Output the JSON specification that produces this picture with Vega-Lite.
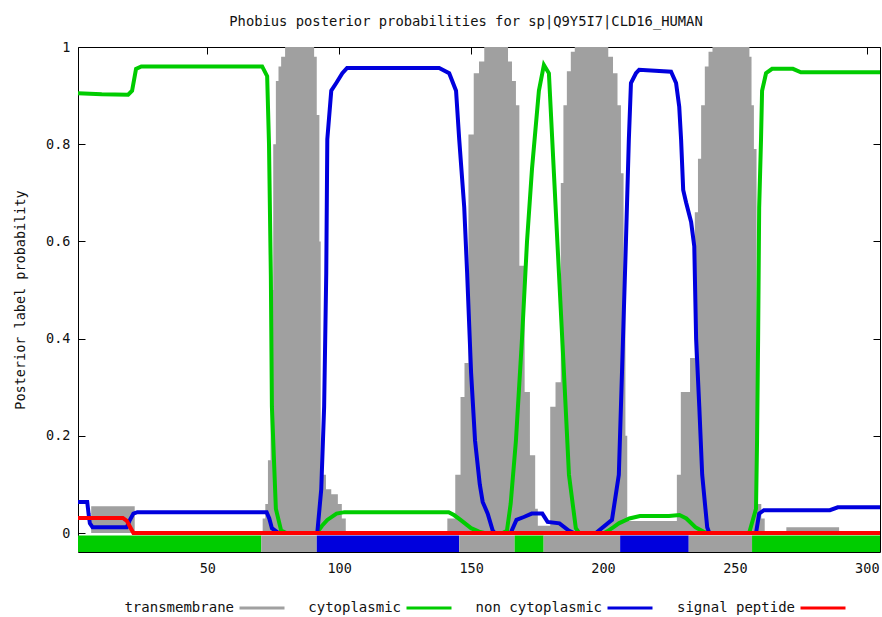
{
  "$schema": "https://vega.github.io/schema/vega-lite/v6.json",
  "width": 802,
  "height": 505,
  "autosize": {"type": "none"},
  "padding": {"left": 78, "top": 47, "right": 2, "bottom": 65},
  "background": "white",
  "title": {
    "text": "Phobius posterior probabilities for sp|Q9Y5I7|CLD16_HUMAN",
    "anchor": "middle",
    "font": "DejaVu Sans Mono",
    "fontSize": 13.8,
    "fontWeight": "normal",
    "color": "#111111",
    "offset": 11,
    "dx": -13
  },
  "datasets": {
    "tm": [
      {"r": 1, "p": 0}, {"r": 6, "p": 0.055}, {"r": 22.5, "p": 0},
      {"r": 71, "p": 0.03}, {"r": 72, "p": 0.06}, {"r": 73, "p": 0.15}, {"r": 74, "p": 0.5}, {"r": 75, "p": 0.8}, {"r": 76, "p": 0.93}, {"r": 77, "p": 0.96}, {"r": 78, "p": 0.98}, {"r": 79.5, "p": 1.0}, {"r": 90.5, "p": 0.98}, {"r": 91.5, "p": 0.86}, {"r": 92.5, "p": 0.6}, {"r": 93, "p": 0.12}, {"r": 95, "p": 0.09}, {"r": 97, "p": 0.08}, {"r": 99.5, "p": 0.06}, {"r": 101, "p": 0.03}, {"r": 102.5, "p": 0},
      {"r": 141, "p": 0.03}, {"r": 144, "p": 0.12}, {"r": 146, "p": 0.28}, {"r": 147.5, "p": 0.35}, {"r": 149, "p": 0.82}, {"r": 151, "p": 0.946}, {"r": 153, "p": 0.97}, {"r": 155, "p": 1.0}, {"r": 164, "p": 0.97}, {"r": 165.5, "p": 0.93}, {"r": 167, "p": 0.88}, {"r": 168.3, "p": 0.55}, {"r": 170.3, "p": 0.29}, {"r": 172.3, "p": 0.16}, {"r": 174.3, "p": 0.05}, {"r": 175.3, "p": 0.015},
      {"r": 180, "p": 0.26}, {"r": 182, "p": 0.31}, {"r": 184, "p": 0.72}, {"r": 185, "p": 0.88}, {"r": 186.3, "p": 0.95}, {"r": 187.8, "p": 0.99}, {"r": 189.3, "p": 1.0}, {"r": 202, "p": 0.98}, {"r": 203.8, "p": 0.946}, {"r": 205.5, "p": 0.88}, {"r": 206.8, "p": 0.74}, {"r": 207.8, "p": 0.47}, {"r": 208.5, "p": 0.2}, {"r": 209.2, "p": 0.025},
      {"r": 228, "p": 0.12}, {"r": 229.5, "p": 0.29}, {"r": 233, "p": 0.36}, {"r": 234.8, "p": 0.66}, {"r": 236, "p": 0.77}, {"r": 237.2, "p": 0.88}, {"r": 238.6, "p": 0.96}, {"r": 240, "p": 0.99}, {"r": 241.5, "p": 1.0}, {"r": 255.5, "p": 0.98}, {"r": 256.3, "p": 0.88}, {"r": 257.2, "p": 0.79}, {"r": 258.2, "p": 0.3}, {"r": 258.7, "p": 0.06}, {"r": 260, "p": 0.03}, {"r": 261.3, "p": 0},
      {"r": 269.5, "p": 0.012}, {"r": 289.5, "p": 0}, {"r": 305, "p": 0}
    ],
    "topology": [
      {"start": 1, "end": 70.5, "region": "cytoplasmic"},
      {"start": 70.5, "end": 91.5, "region": "transmembrane"},
      {"start": 91.5, "end": 145.5, "region": "non cytoplasmic"},
      {"start": 145.5, "end": 166.5, "region": "transmembrane"},
      {"start": 166.5, "end": 177.5, "region": "cytoplasmic"},
      {"start": 177.5, "end": 206.5, "region": "transmembrane"},
      {"start": 206.5, "end": 232.5, "region": "non cytoplasmic"},
      {"start": 232.5, "end": 256.5, "region": "transmembrane"},
      {"start": 256.5, "end": 305, "region": "cytoplasmic"}
    ],
    "probs": [
      {"series": "cytoplasmic", "r": 1, "p": 0.905}, {"series": "cytoplasmic", "r": 10, "p": 0.903}, {"series": "cytoplasmic", "r": 20, "p": 0.902}, {"series": "cytoplasmic", "r": 21.5, "p": 0.91}, {"series": "cytoplasmic", "r": 23, "p": 0.955}, {"series": "cytoplasmic", "r": 25, "p": 0.96}, {"series": "cytoplasmic", "r": 70.8, "p": 0.96}, {"series": "cytoplasmic", "r": 72.7, "p": 0.94}, {"series": "cytoplasmic", "r": 73.4, "p": 0.8}, {"series": "cytoplasmic", "r": 74.1, "p": 0.53}, {"series": "cytoplasmic", "r": 74.5, "p": 0.26}, {"series": "cytoplasmic", "r": 76, "p": 0.05}, {"series": "cytoplasmic", "r": 78, "p": 0.005}, {"series": "cytoplasmic", "r": 80, "p": 0}, {"series": "cytoplasmic", "r": 91.5, "p": 0}, {"series": "cytoplasmic", "r": 93.5, "p": 0.015}, {"series": "cytoplasmic", "r": 95.5, "p": 0.027}, {"series": "cytoplasmic", "r": 99, "p": 0.04}, {"series": "cytoplasmic", "r": 102, "p": 0.043}, {"series": "cytoplasmic", "r": 141.5, "p": 0.043}, {"series": "cytoplasmic", "r": 143.5, "p": 0.037}, {"series": "cytoplasmic", "r": 146, "p": 0.027}, {"series": "cytoplasmic", "r": 150, "p": 0.01}, {"series": "cytoplasmic", "r": 153, "p": 0.003}, {"series": "cytoplasmic", "r": 155, "p": 0}, {"series": "cytoplasmic", "r": 162, "p": 0}, {"series": "cytoplasmic", "r": 163.6, "p": 0.005}, {"series": "cytoplasmic", "r": 165, "p": 0.06}, {"series": "cytoplasmic", "r": 167, "p": 0.19}, {"series": "cytoplasmic", "r": 169.3, "p": 0.4}, {"series": "cytoplasmic", "r": 171.2, "p": 0.6}, {"series": "cytoplasmic", "r": 173.1, "p": 0.75}, {"series": "cytoplasmic", "r": 175.7, "p": 0.91}, {"series": "cytoplasmic", "r": 177.6, "p": 0.963}, {"series": "cytoplasmic", "r": 179.5, "p": 0.946}, {"series": "cytoplasmic", "r": 181.4, "p": 0.74}, {"series": "cytoplasmic", "r": 183.3, "p": 0.535}, {"series": "cytoplasmic", "r": 185.2, "p": 0.33}, {"series": "cytoplasmic", "r": 187.1, "p": 0.12}, {"series": "cytoplasmic", "r": 189.7, "p": 0.01}, {"series": "cytoplasmic", "r": 191, "p": 0}, {"series": "cytoplasmic", "r": 200.5, "p": 0}, {"series": "cytoplasmic", "r": 202, "p": 0.005}, {"series": "cytoplasmic", "r": 204, "p": 0.012}, {"series": "cytoplasmic", "r": 206, "p": 0.02}, {"series": "cytoplasmic", "r": 210, "p": 0.03}, {"series": "cytoplasmic", "r": 214, "p": 0.035}, {"series": "cytoplasmic", "r": 225, "p": 0.035}, {"series": "cytoplasmic", "r": 229, "p": 0.037}, {"series": "cytoplasmic", "r": 231.6, "p": 0.03}, {"series": "cytoplasmic", "r": 235, "p": 0.012}, {"series": "cytoplasmic", "r": 238, "p": 0.003}, {"series": "cytoplasmic", "r": 239.5, "p": 0}, {"series": "cytoplasmic", "r": 255.4, "p": 0}, {"series": "cytoplasmic", "r": 258, "p": 0.05}, {"series": "cytoplasmic", "r": 258.4, "p": 0.19}, {"series": "cytoplasmic", "r": 258.8, "p": 0.4}, {"series": "cytoplasmic", "r": 259.2, "p": 0.67}, {"series": "cytoplasmic", "r": 259.9, "p": 0.81}, {"series": "cytoplasmic", "r": 260.3, "p": 0.91}, {"series": "cytoplasmic", "r": 261.8, "p": 0.946}, {"series": "cytoplasmic", "r": 264.1, "p": 0.955}, {"series": "cytoplasmic", "r": 272, "p": 0.955}, {"series": "cytoplasmic", "r": 275, "p": 0.948}, {"series": "cytoplasmic", "r": 305, "p": 0.948},
      {"series": "non cytoplasmic", "r": 1, "p": 0.064}, {"series": "non cytoplasmic", "r": 4.5, "p": 0.064}, {"series": "non cytoplasmic", "r": 5, "p": 0.04}, {"series": "non cytoplasmic", "r": 5.5, "p": 0.02}, {"series": "non cytoplasmic", "r": 6.5, "p": 0.012}, {"series": "non cytoplasmic", "r": 19.5, "p": 0.012}, {"series": "non cytoplasmic", "r": 20.5, "p": 0.025}, {"series": "non cytoplasmic", "r": 22, "p": 0.04}, {"series": "non cytoplasmic", "r": 23.5, "p": 0.043}, {"series": "non cytoplasmic", "r": 72.5, "p": 0.043}, {"series": "non cytoplasmic", "r": 73.5, "p": 0.03}, {"series": "non cytoplasmic", "r": 74.5, "p": 0.01}, {"series": "non cytoplasmic", "r": 77, "p": 0}, {"series": "non cytoplasmic", "r": 91.7, "p": 0}, {"series": "non cytoplasmic", "r": 93.2, "p": 0.09}, {"series": "non cytoplasmic", "r": 94.3, "p": 0.26}, {"series": "non cytoplasmic", "r": 95.1, "p": 0.535}, {"series": "non cytoplasmic", "r": 95.5, "p": 0.81}, {"series": "non cytoplasmic", "r": 97, "p": 0.91}, {"series": "non cytoplasmic", "r": 98.9, "p": 0.926}, {"series": "non cytoplasmic", "r": 101.2, "p": 0.946}, {"series": "non cytoplasmic", "r": 103, "p": 0.957}, {"series": "non cytoplasmic", "r": 137.9, "p": 0.957}, {"series": "non cytoplasmic", "r": 141.7, "p": 0.946}, {"series": "non cytoplasmic", "r": 144.3, "p": 0.91}, {"series": "non cytoplasmic", "r": 145.5, "p": 0.81}, {"series": "non cytoplasmic", "r": 147.4, "p": 0.67}, {"series": "non cytoplasmic", "r": 148.5, "p": 0.535}, {"series": "non cytoplasmic", "r": 150, "p": 0.33}, {"series": "non cytoplasmic", "r": 151.5, "p": 0.19}, {"series": "non cytoplasmic", "r": 153.3, "p": 0.1}, {"series": "non cytoplasmic", "r": 154.4, "p": 0.064}, {"series": "non cytoplasmic", "r": 156.3, "p": 0.04}, {"series": "non cytoplasmic", "r": 158.2, "p": 0.005}, {"series": "non cytoplasmic", "r": 159, "p": 0}, {"series": "non cytoplasmic", "r": 165, "p": 0}, {"series": "non cytoplasmic", "r": 167.2, "p": 0.027}, {"series": "non cytoplasmic", "r": 170, "p": 0.033}, {"series": "non cytoplasmic", "r": 173, "p": 0.04}, {"series": "non cytoplasmic", "r": 177, "p": 0.04}, {"series": "non cytoplasmic", "r": 179, "p": 0.023}, {"series": "non cytoplasmic", "r": 183.5, "p": 0.02}, {"series": "non cytoplasmic", "r": 187, "p": 0.005}, {"series": "non cytoplasmic", "r": 189, "p": 0}, {"series": "non cytoplasmic", "r": 197.3, "p": 0}, {"series": "non cytoplasmic", "r": 203.4, "p": 0.027}, {"series": "non cytoplasmic", "r": 206, "p": 0.12}, {"series": "non cytoplasmic", "r": 207.2, "p": 0.33}, {"series": "non cytoplasmic", "r": 208.7, "p": 0.6}, {"series": "non cytoplasmic", "r": 209.8, "p": 0.81}, {"series": "non cytoplasmic", "r": 210.6, "p": 0.926}, {"series": "non cytoplasmic", "r": 212.5, "p": 0.946}, {"series": "non cytoplasmic", "r": 213.7, "p": 0.953}, {"series": "non cytoplasmic", "r": 225.8, "p": 0.949}, {"series": "non cytoplasmic", "r": 227.7, "p": 0.926}, {"series": "non cytoplasmic", "r": 228.9, "p": 0.877}, {"series": "non cytoplasmic", "r": 229.6, "p": 0.81}, {"series": "non cytoplasmic", "r": 230.4, "p": 0.706}, {"series": "non cytoplasmic", "r": 231.5, "p": 0.68}, {"series": "non cytoplasmic", "r": 233.4, "p": 0.64}, {"series": "non cytoplasmic", "r": 234.6, "p": 0.59}, {"series": "non cytoplasmic", "r": 235.3, "p": 0.4}, {"series": "non cytoplasmic", "r": 236.5, "p": 0.26}, {"series": "non cytoplasmic", "r": 237.6, "p": 0.12}, {"series": "non cytoplasmic", "r": 239.5, "p": 0.012}, {"series": "non cytoplasmic", "r": 240.3, "p": 0}, {"series": "non cytoplasmic", "r": 258, "p": 0}, {"series": "non cytoplasmic", "r": 259.2, "p": 0.04}, {"series": "non cytoplasmic", "r": 261, "p": 0.047}, {"series": "non cytoplasmic", "r": 286, "p": 0.047}, {"series": "non cytoplasmic", "r": 289, "p": 0.053}, {"series": "non cytoplasmic", "r": 305, "p": 0.053},
      {"series": "signal peptide", "r": 1, "p": 0.031}, {"series": "signal peptide", "r": 18, "p": 0.031}, {"series": "signal peptide", "r": 19.5, "p": 0.025}, {"series": "signal peptide", "r": 21, "p": 0.01}, {"series": "signal peptide", "r": 22, "p": 0}, {"series": "signal peptide", "r": 305, "p": 0}
    ]
  },
  "layer": [
    {
      "data": {"name": "tm"},
      "mark": {"type": "area", "interpolate": "step-after", "color": "#a0a0a0"},
      "encoding": {
        "x": {
          "field": "r", "type": "quantitative",
          "scale": {"domain": [1, 305], "nice": false, "zero": false},
          "axis": {"orient": "bottom", "values": [50, 100, 150, 200, 250, 300], "title": null, "labelPadding": 16}
        },
        "y": {
          "field": "p", "type": "quantitative",
          "scale": {"domain": [-0.039, 1], "nice": false, "zero": false},
          "axis": {"orient": "left", "values": [0, 0.2, 0.4, 0.6, 0.8, 1], "format": "~g", "title": "Posterior label probability", "labelPadding": 15, "titlePadding": 18}
        },
        "y2": {"datum": 0}
      }
    },
    {
      "data": {"name": "topology"},
      "mark": {"type": "rect"},
      "encoding": {
        "x": {
          "field": "start", "type": "quantitative",
          "axis": {"orient": "top", "values": [50, 100, 150, 200, 250, 300], "labels": false, "title": null}
        },
        "x2": {"field": "end"},
        "y": {
          "datum": -0.039, "type": "quantitative",
          "axis": {"orient": "right", "values": [0, 0.2, 0.4, 0.6, 0.8, 1], "labels": false, "title": null}
        },
        "y2": {"datum": -0.005},
        "fill": {
          "field": "region", "type": "nominal",
          "scale": {"domain": ["transmembrane", "cytoplasmic", "non cytoplasmic"], "range": ["#a0a0a0", "#00cc00", "#0000dd"]},
          "legend": null
        }
      }
    },
    {
      "data": {"name": "probs"},
      "mark": {"type": "line", "strokeWidth": 4, "interpolate": "linear"},
      "encoding": {
        "x": {"field": "r", "type": "quantitative", "axis": null},
        "y": {"field": "p", "type": "quantitative", "axis": null},
        "color": {
          "field": "series", "type": "nominal",
          "scale": {"domain": ["transmembrane", "cytoplasmic", "non cytoplasmic", "signal peptide"], "range": ["#a0a0a0", "#00cc00", "#0000dd", "#ff0000"]},
          "legend": {
            "orient": "none", "legendX": 156, "legendY": 537, "direction": "horizontal", "title": null,
            "symbolType": "stroke", "symbolSize": 2025, "symbolStrokeWidth": 3,
            "labelAlign": "right", "labelOffset": -52, "symbolOffset": 4, "columnPadding": 17,
            "labelFont": "DejaVu Sans Mono", "labelFontSize": 14, "labelColor": "#111111", "labelLimit": 300
          }
        }
      }
    }
  ],
  "resolve": {"axis": {"x": "independent", "y": "independent"}},
  "config": {
    "view": {"stroke": "#000000", "strokeWidth": 1},
    "axis": {
      "labelFont": "DejaVu Sans Mono", "labelFontSize": 13.5, "labelColor": "#111111",
      "titleFont": "DejaVu Sans Mono", "titleFontSize": 13.5, "titleFontWeight": "normal", "titleColor": "#111111",
      "domain": false, "grid": false, "tickColor": "#000000", "tickSize": -7, "tickWidth": 1
    }
  }
}
